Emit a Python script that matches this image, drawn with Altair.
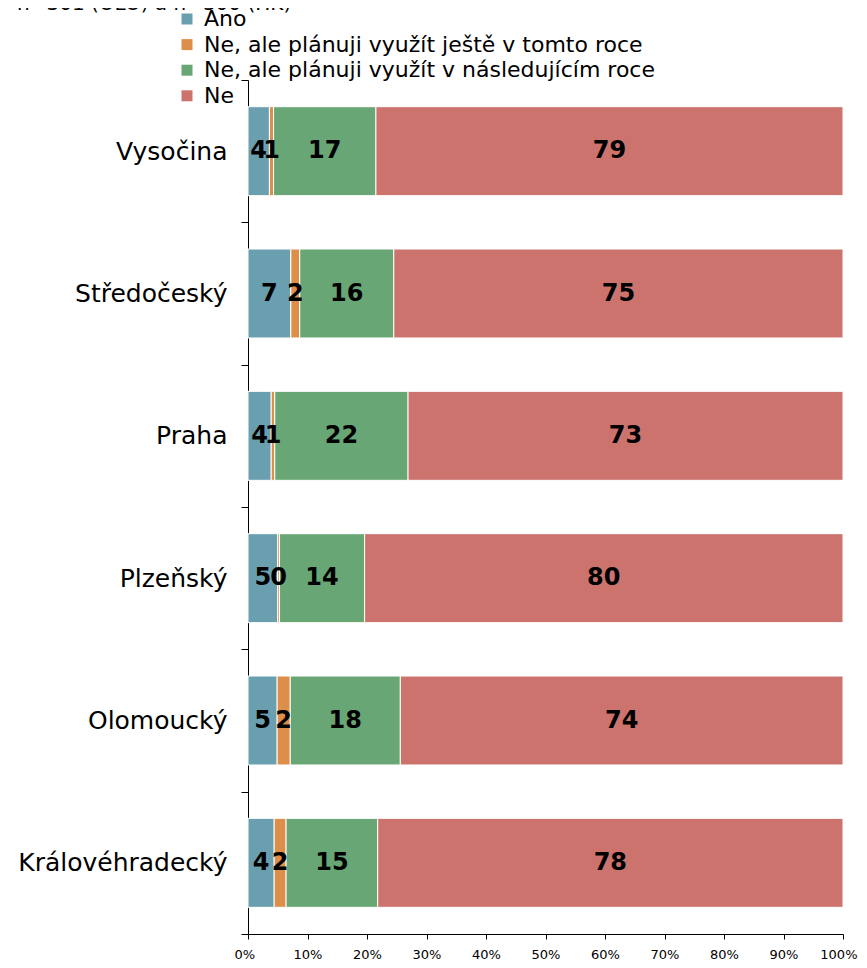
import altair as alt
import pandas as pd

# ---- data ----
title_text = ["n=301 (OLO) a n=300 (HK)"]
regions = ["Vysočina", "Středočeský", "Praha", "Plzeňský", "Olomoucký", "Královéhradecký"]
categories = [
    "Ano",
    "Ne, ale plánuji využít ještě v tomto roce",
    "Ne, ale plánuji využít v následujícím roce",
    "Ne",
]
ano = [3.6, 7.2, 3.9, 5.0, 4.9, 4.4]
this_year = [0.7, 1.5, 0.6, 0.3, 2.2, 2.0]
next_year = [17.2, 15.8, 22.4, 14.3, 18.5, 15.4]
ne = [78.5, 75.5, 73.1, 80.4, 74.4, 78.2]

lbl_ano = ["4", "7", "4", "5", "5", "4"]
lbl_this = ["1", "2", "1", "0", "2", "2"]
lbl_next = ["17", "16", "22", "14", "18", "15"]
lbl_ne = ["79", "75", "73", "80", "74", "78"]

x_ticks = [0, 10, 20, 30, 40, 50, 60, 70, 80, 90, 100]
colors = ["#6A9FAF", "#DD8F4A", "#68A775", "#CC736E"]

series = [ano, this_year, next_year, ne]
labels = [lbl_ano, lbl_this, lbl_next, lbl_ne]

rows = []
for ci, (cat, vals, lbls) in enumerate(zip(categories, series, labels)):
    for r, v, l in zip(regions, vals, lbls):
        rows.append({"region": r, "category": cat, "ci": ci, "value": v, "label": l})
df = pd.DataFrame(rows)

FONT = "DejaVu Sans"

y_enc = alt.Y(
    "region:N",
    sort=regions,
    title=None,
    scale=alt.Scale(paddingInner=0, paddingOuter=0),
    axis=alt.Axis(
        tickBand="extent",
        tickSize=7,
        labelPadding=14,
        labelFontSize=25,
        labelFont=FONT,
        labelColor="black",
        labelLimit=400,
        domainColor="black",
        tickColor="black",
        grid=False,
    ),
)

bars = (
    alt.Chart(df)
    .mark_bar(stroke="white", strokeWidth=1, height={"band": 0.625})
    .encode(
        x=alt.X(
            "value:Q",
            stack="zero",
            title=None,
            scale=alt.Scale(domain=[0, 100], nice=False),
            axis=alt.Axis(
                values=x_ticks,
                labelExpr="datum.value + '%'",
                labelFlush=True,
                labelFlushOffset=14,
                tickSize=5,
                labelPadding=9,
                labelFontSize=13,
                labelFont=FONT,
                labelColor="black",
                domainColor="black",
                tickColor="black",
                grid=False,
            ),
        ),
        y=y_enc,
        color=alt.Color(
            "category:N",
            scale=alt.Scale(domain=categories, range=colors),
            legend=alt.Legend(
                title=None,
                orient="none",
                legendX=-72,
                legendY=-72,
                symbolType="square",
                symbolSize=121,
                symbolStrokeWidth=0,
                labelFontSize=22,
                labelFont=FONT,
                labelColor="black",
                labelOffset=6,
                rowPadding=3.6,
                labelLimit=700,
            ),
        ),
        order=alt.Order("ci:Q"),
    )
)

texts = (
    alt.Chart(df)
    .transform_window(
        cum="sum(value)",
        groupby=["region"],
        sort=[alt.SortField("ci")],
        frame=[None, 0],
    )
    .transform_calculate(mid="datum.cum - datum.value / 2")
    .mark_text(font=FONT, fontWeight="bold", fontSize=24, color="black", baseline="middle")
    .encode(x=alt.X("mid:Q"), y=alt.Y("region:N", sort=regions), text="label:N")
)

title_layer = (
    alt.Chart(pd.DataFrame({"t": title_text}))
    .mark_text(font=FONT, fontSize=20, color="black", align="left", baseline="alphabetic")
    .encode(x=alt.value(-231), y=alt.value(-70), text="t:N")
)

chart = (
    alt.layer(bars, texts, title_layer)
    .properties(
        width=595,
        height=854,
        autosize="none",
        padding={"left": 240, "top": 72, "right": 16, "bottom": 26},
    )
    .configure_view(stroke=None)
)

chart.save("out.html", embed_options={"renderer": "svg", "actions": False})
